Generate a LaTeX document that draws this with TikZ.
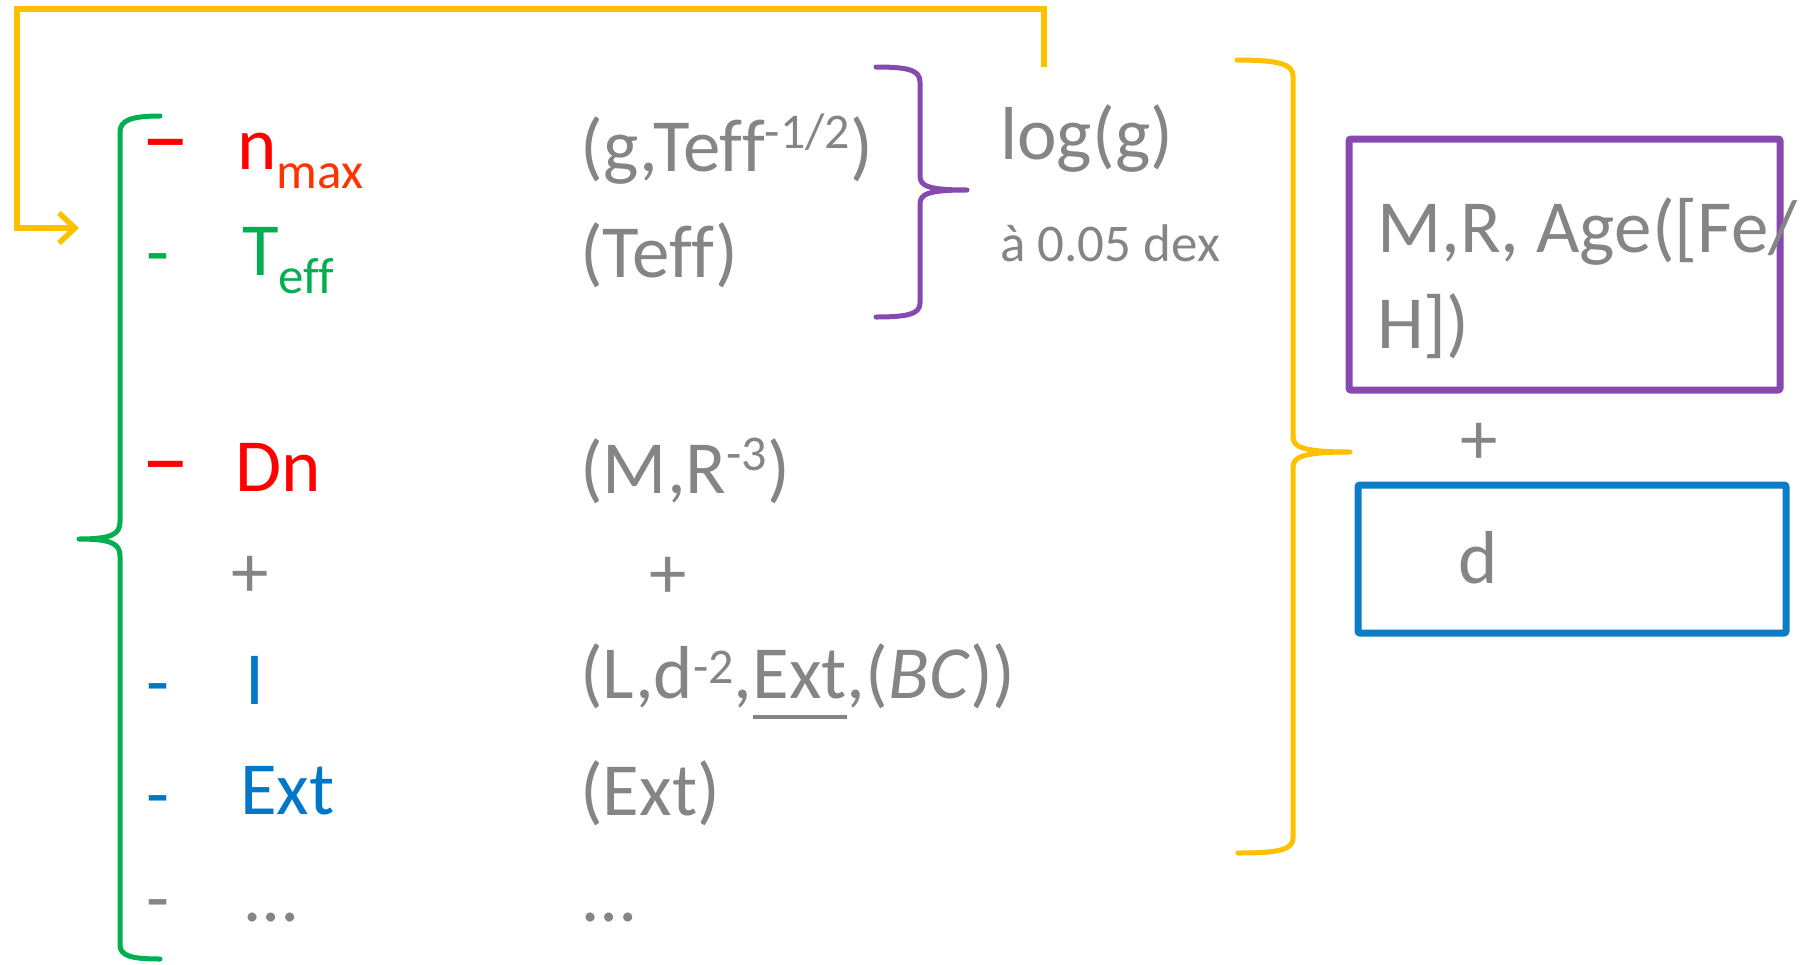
\documentclass[tikz,border=0pt]{standalone}
\usepackage{fontspec}
\setmainfont{Carlito}[Ligatures=NoCommon]
\usetikzlibrary{arrows.meta}
\definecolor{cgray}{HTML}{858585}
\definecolor{cred}{HTML}{FF0000}
\definecolor{corange}{HTML}{FF3300}
\definecolor{cgreen}{HTML}{00B050}
\definecolor{cblue}{HTML}{0077C8}
\definecolor{cboxblue}{HTML}{0A7DC6}
\definecolor{cpurple}{HTML}{8549B0}
\definecolor{cyellow}{HTML}{FFC000}
\newcommand\bigf{\fontsize{75}{90}\selectfont}
\newcommand\supf{\fontsize{50}{52}\selectfont}
\newcommand\sbf{\fontsize{51}{53}\selectfont}
\newcommand\mysup[2]{\raisebox{#1}{\supf #2}}
\newcommand\myul[1]{\setbox0\hbox{#1}\rlap{\rule[-21pt]{\wd0}{4.5pt}}\box0}
\newcommand\wdash{\scalebox{1.3}{–}}
\begin{document}
\begin{tikzpicture}[x=1pt,y=-1pt,
  txt/.style={inner sep=0pt, anchor=base west, font=\bigf},
  dashn/.style={inner sep=0pt, anchor=north, font=\bigf},
  plus/.style={inner sep=0pt, anchor=center, font=\bigf, text=cgray},
  brk/.style={line width=5pt, line cap=round, line join=round},
  boxst/.style={draw, line width=7pt, rounded corners=2pt, inner sep=0pt},
  yline/.style={draw=cyellow, line width=5.5pt, line join=miter}]
\useasboundingbox (0,0) rectangle (1802,964);

% left column: bullets
\node[dashn, text=cred]   (b1) at (166,139) {\wdash};
\node[dashn, text=cgreen] (b2) at (158,253) {-};
\node[dashn, text=cred]   (b3) at (166,461) {\wdash};
\node[dashn, text=cblue]  (b4) at (158,683) {-};
\node[dashn, text=cblue]  (b5) at (158,795) {-};
\node[dashn, text=cgray]  (b6) at (158,899) {-};

% left column: quantities
\node[txt, text=cred]   (nmax) at (237,169) {n\raisebox{-19pt}{\sbf\color{corange}max}};
\node[txt, text=cgreen] (teff) at (242,275) {T\raisebox{-18pt}{\sbf eff}};
\node[txt, text=cred]   (dn)   at (235,491) {Dn};
\node[plus]             (plus1) at (250,577) {+};
\node[txt, text=cblue]  (lum)  at (245,704) {I};
\node[txt, text=cblue]  (ext)  at (240,814) {Ext};
\node[txt, text=cgray]  (dots1) at (245,921) {…};

% middle column: dependencies
\node[txt, text=cgray] (f1) at (580,171) {(g,Teff\mysup{23pt}{-1/2})};
\node[txt, text=cgray] (f2) at (580,277) {(Teff)};
\node[txt, text=cgray] (f3) at (580,493) {(M,R\mysup{23pt}{-3})};
\node[plus]            (plus2) at (668,578) {+};
\node[txt, text=cgray] (f4) at (580,698) {(L,d\mysup{15pt}{-2},\myul{Ext},(\textit{BC}))};
\node[txt, text=cgray] (f5) at (580,815) {(Ext)};
\node[txt, text=cgray] (dots2) at (583,921) {…};

% log g
\node[txt, text=cgray] (logg) at (1000,159) {log(g)};
\node[txt, text=cgray, font=\fontsize{53}{60}\selectfont] (prec) at (1000,261) {à 0.05 dex};

% boxes
\node[boxst, draw=cpurple, minimum width=431pt, minimum height=251pt] (pbox) at (1564.5,264.5) {};
\node[txt, text=cgray] (mr1) at (1377,252) {M,R, Age([Fe/};
\node[txt, text=cgray] (mr2) at (1377,348) {H])};
\node[plus] (plus3) at (1479,444) {+};
\node[boxst, draw=cboxblue, minimum width=428pt, minimum height=148pt] (bbox) at (1572,559) {};
\node[txt, text=cgray] (dd) at (1458,583) {d};

% green bracket
\draw[brk, cgreen] (160,116) .. controls (132,116) and (120,120) .. (120,132)
  -- (120,522) .. controls (120,534) and (112,539) .. (79,539)
  .. controls (112,539) and (120,544) .. (120,556)
  -- (120,945) .. controls (120,956) and (132,959) .. (160,959);

% purple brace
\draw[brk, cpurple] (876,67) .. controls (908,67) and (920,70) .. (920,82)
  -- (920,176) .. controls (920,186) and (928,190) .. (967,190)
  .. controls (928,190) and (920,194) .. (920,204)
  -- (920,303) .. controls (920,314) and (908,317) .. (876,317);

% yellow brace
\draw[brk, cyellow] (1237,60) .. controls (1278,60) and (1293,64) .. (1293,76)
  -- (1293,437) .. controls (1293,447) and (1303,452) .. (1350,452)
  .. controls (1303,452) and (1293,457) .. (1293,467)
  -- (1293,838) .. controls (1293,850) and (1278,853) .. (1238,853);

% yellow feedback connector
\coordinate (ystart) at (1044,67);
\coordinate (yend) at (79,228);
\draw[yline, -{Straight Barb[length=16pt,width=30pt]}] (ystart) -- (1044,9) -- (17,9) -- (17,228) -- (yend);
\end{tikzpicture}
\end{document}
